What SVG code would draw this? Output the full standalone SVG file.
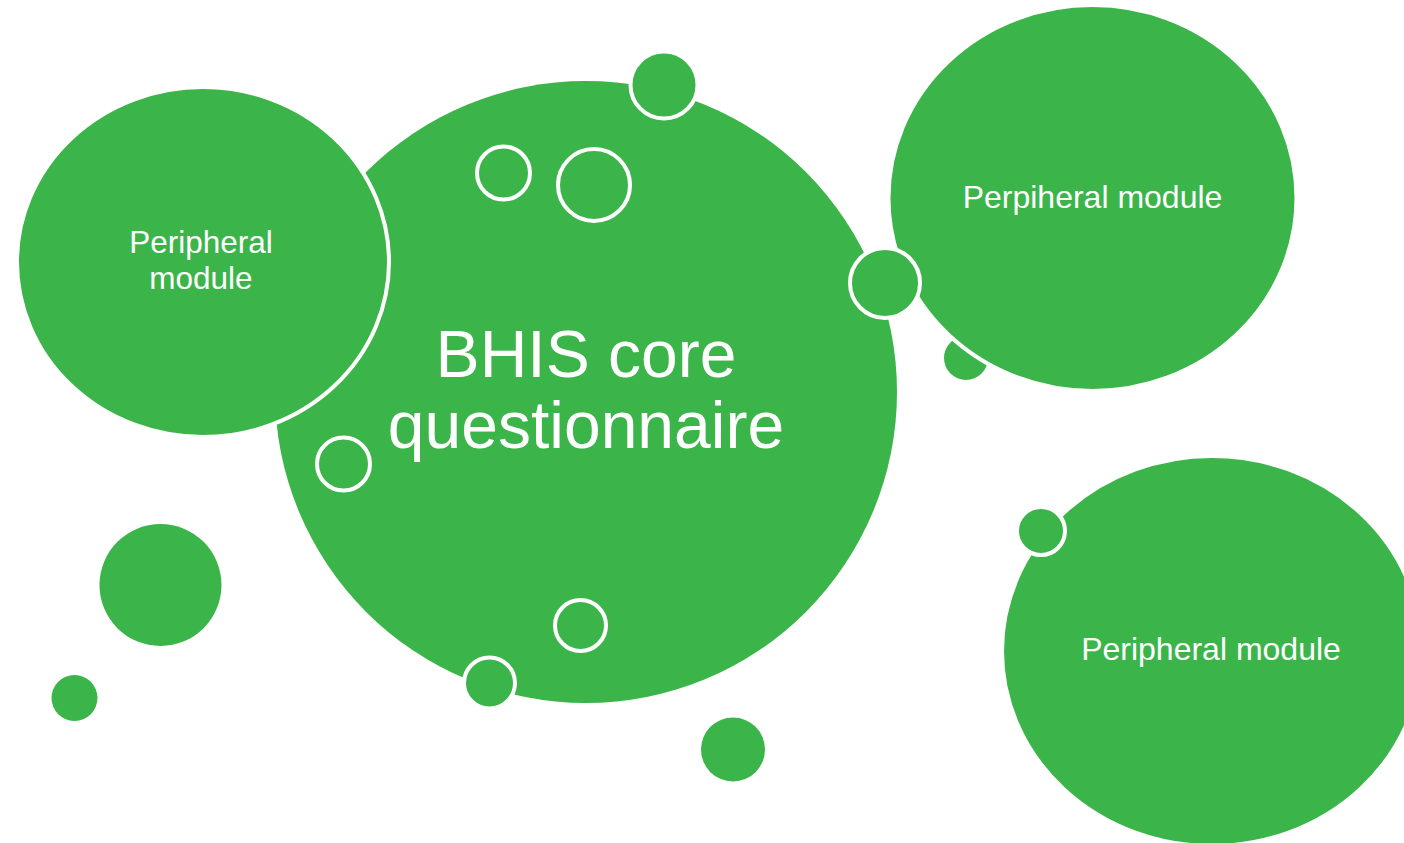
<svg xmlns="http://www.w3.org/2000/svg" width="1404" height="843" viewBox="0 0 1404 843">
<style>
.g{fill:#3bb54a}
.gs{fill:#3bb54a;stroke:#ffffff;stroke-width:4}
.t{fill:#ffffff;font-family:"Liberation Sans",Arial,sans-serif;text-anchor:middle}
</style>
<rect width="1404" height="843" fill="#ffffff"/>
<g id="core">
<circle class="g" cx="586" cy="392" r="311"/>
<text class="t" font-size="66" x="586" y="377"><tspan x="586" y="377">BHIS core</tspan><tspan x="586" y="448">questionnaire</tspan></text>
</g>
<g id="module-left">
<ellipse class="gs" cx="203" cy="262" rx="186" ry="175"/>
<text class="t" font-size="31.5" x="201" y="253"><tspan x="201" y="253">Peripheral</tspan><tspan x="201" y="289">module</tspan></text>
</g>
<g id="bubbles-core">
<circle class="gs" cx="664" cy="85" r="33.5"/>
<circle class="gs" cx="503.5" cy="173" r="26.5"/>
<circle class="gs" cx="594" cy="185" r="36"/>
<circle class="gs" cx="343.5" cy="464" r="26.5"/>
<circle class="gs" cx="580.5" cy="625.5" r="25.5"/>
<circle class="gs" cx="489.5" cy="683" r="25.5"/>
<circle class="g" cx="966" cy="358" r="22"/>
</g>
<g id="module-top-right">
<ellipse class="gs" cx="1092.5" cy="198" rx="204" ry="193"/>
<text class="t" font-size="32" x="1092.5" y="208">Perpiheral module</text>
</g>
<g id="bubble-link">
<circle class="gs" cx="885" cy="283" r="35"/>
</g>
<g id="module-bottom-right">
<ellipse class="gs" cx="1212" cy="651" rx="210" ry="195"/>
<text class="t" font-size="32" x="1211" y="660">Peripheral module</text>
</g>
<g id="bubbles-free">
<circle class="gs" cx="1041" cy="531" r="24"/>
<circle class="g" cx="160.5" cy="585" r="61"/>
<circle class="g" cx="74.5" cy="698" r="23"/>
<circle class="g" cx="733" cy="749.5" r="32"/>
</g>
<g id="connectors"></g>
</svg>
